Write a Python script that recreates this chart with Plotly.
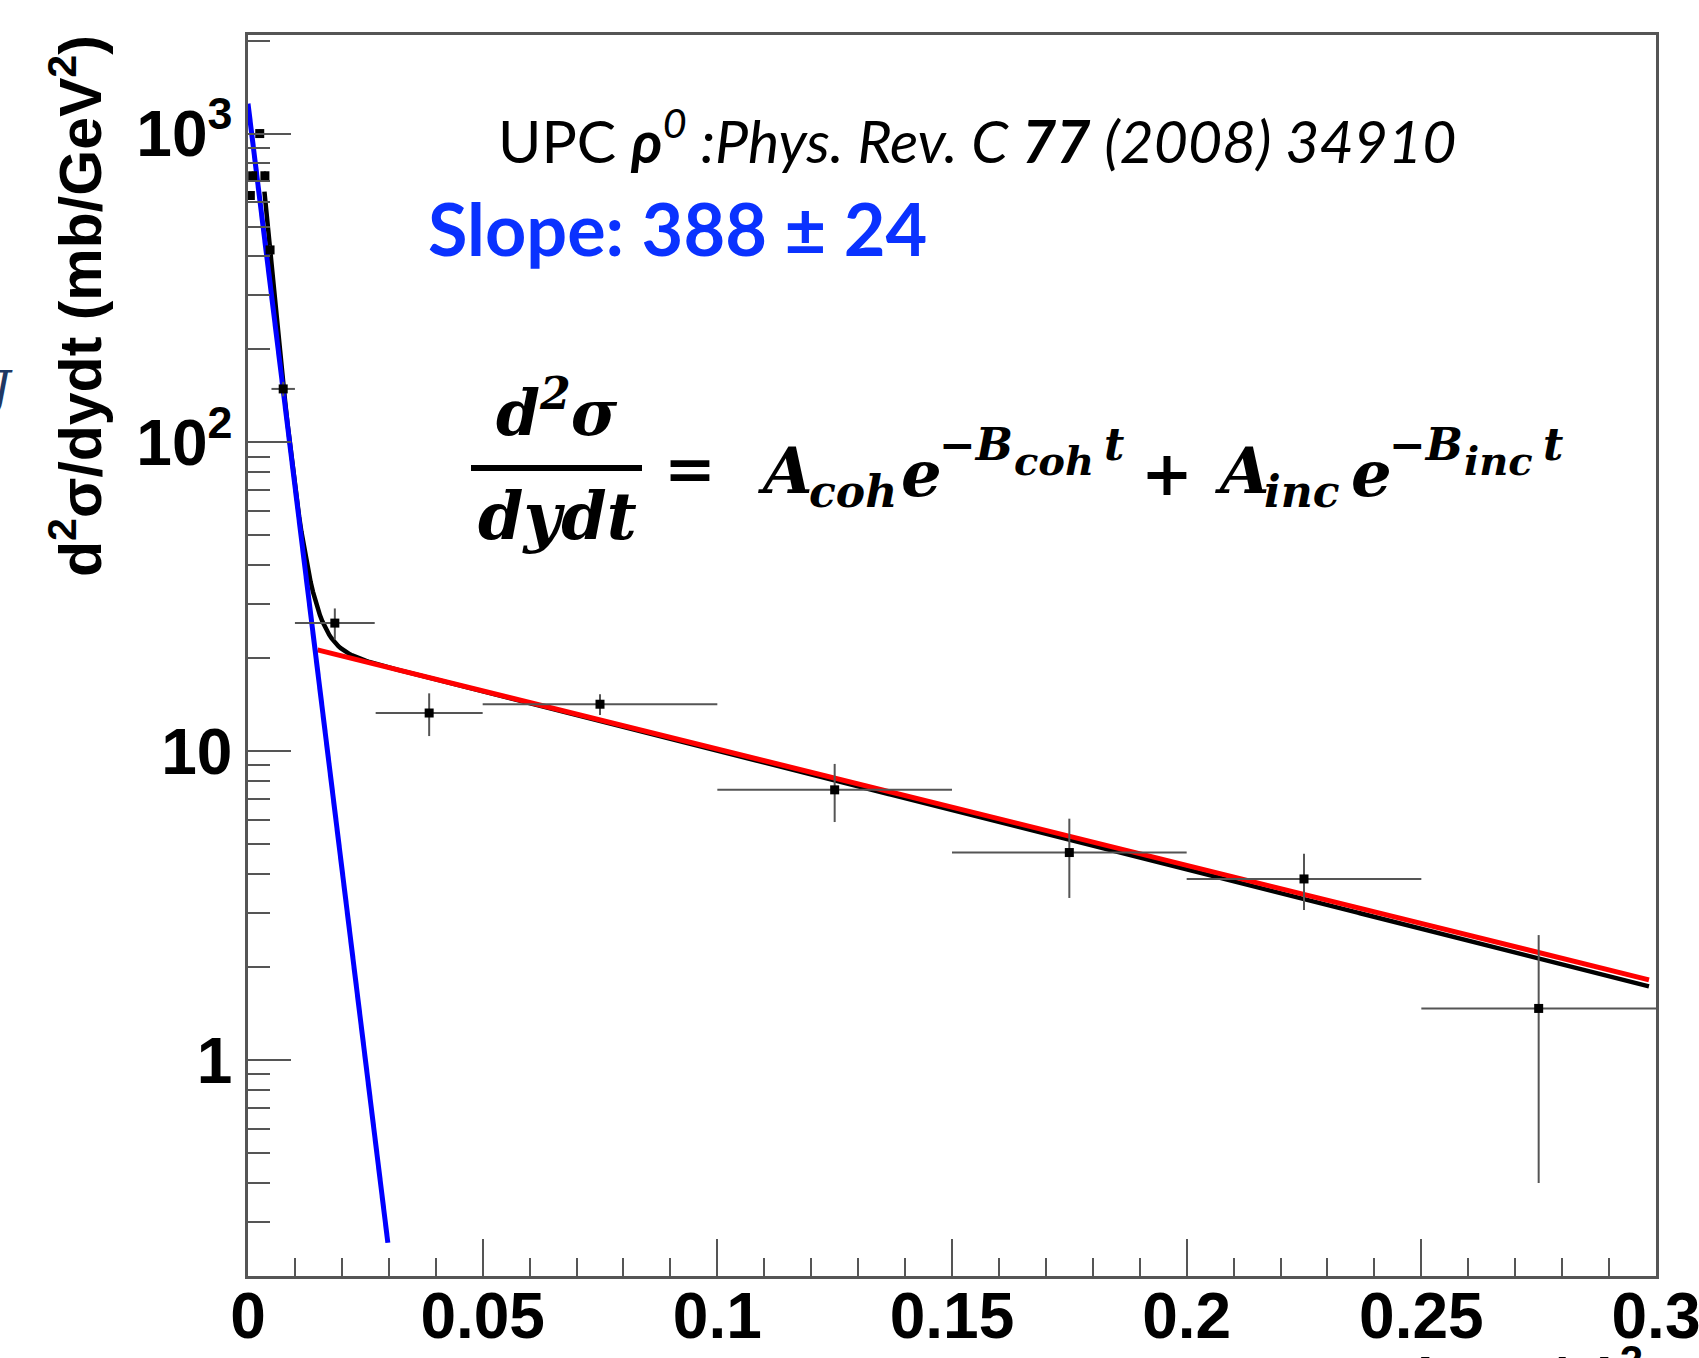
import numpy as np
import plotly.graph_objects as go

# ---------------- data ----------------
t_center = [0.0005, 0.0010, 0.0025, 0.0036, 0.0047, 0.0075, 0.0185, 0.0386, 0.075, 0.125, 0.175, 0.225, 0.275]
t_halfwidth = [0.0005, 0.0005, 0.0005, 0.0005, 0.0005, 0.0025, 0.0085, 0.0114, 0.025, 0.025, 0.025, 0.025, 0.025]
dsigma = [630, 730, 1000, 730, 420, 149, 26.0, 13.3, 14.2, 7.5, 4.7, 3.86, 1.47]
dsigma_err = [20, 25, 30, 25, 15, 8, 3.0, 2.1, 1.1, 1.6, 1.35, 0.8, 1.07]

# fit parameters
blue_A, blue_B, blue_tmax = 1250.0, 285.0, 0.0298           # coherent component
red_A, red_B, red_tmin, red_tmax = 24.2, 8.67, 0.0148, 0.2985  # incoherent component
tot_Acoh, tot_Bcoh, tot_Ainc, tot_Binc = 2430.0, 388.0, 24.33, 8.85
tot_tmin, tot_tmax = 0.0035, 0.2985

x_ticks = [0, 0.05, 0.1, 0.15, 0.2, 0.25, 0.3]
x_ticktext = ["0", "0.05", "0.1", "0.15", "0.2", "0.25", "0.3"]
y_tickvals = [1, 10, 100, 1000]
y_ticktext = ["1", "10", "10<sup>2</sup>", "10<sup>3</sup>"]

# ---------------- figure geometry ----------------
W, H = 1699, 1358
ML, MR, MT, MB = 248, 43, 35, 82
PW, PH = W - ML - MR, H - MT - MB


def px(x):
    return (x - ML) / PW


def py(y):
    return (MT + PH - y) / PH


fig = go.Figure()

t_tot = np.linspace(tot_tmin, tot_tmax, 600)
fig.add_trace(go.Scatter(x=t_tot, y=tot_Acoh * np.exp(-tot_Bcoh * t_tot) + tot_Ainc * np.exp(-tot_Binc * t_tot),
                         mode="lines", line=dict(color="black", width=4.5), showlegend=False, hoverinfo="skip"))

t_red = np.linspace(red_tmin, red_tmax, 200)
fig.add_trace(go.Scatter(x=t_red, y=red_A * np.exp(-red_B * t_red), mode="lines",
                         line=dict(color="#ff0000", width=5), showlegend=False, hoverinfo="skip"))

t_blue = np.linspace(0, blue_tmax, 200)
fig.add_trace(go.Scatter(x=t_blue, y=blue_A * np.exp(-blue_B * t_blue), mode="lines",
                         line=dict(color="#0000ff", width=5), showlegend=False, hoverinfo="skip"))

fig.add_trace(go.Scatter(
    x=t_center, y=dsigma, mode="markers",
    marker=dict(symbol="square", size=9, color="black"),
    error_x=dict(type="data", array=t_halfwidth, color="#555555", thickness=2, width=0),
    error_y=dict(type="data", array=dsigma_err, color="#555555", thickness=2, width=0),
    showlegend=False))

axis_col = "#555555"
fig.update_xaxes(range=[0, 0.3], automargin=False, showgrid=False, zeroline=False, showline=True, linecolor=axis_col,
                 linewidth=2.5, mirror=True, ticks="inside", tickvals=x_ticks, ticktext=x_ticktext,
                 ticklen=37, tickwidth=2, tickcolor=axis_col,
                 minor=dict(dtick=0.01, tick0=0, ticks="inside", ticklen=18, tickwidth=2, tickcolor=axis_col, showgrid=False),
                 tickfont=dict(family="Liberation Sans", size=64, color="black", weight="bold"),
                 ticklabelstandoff=-18, ticklabeloverflow="allow")

minor_y = [k * 10 ** e for e in range(-1, 4) for k in range(2, 10) if 0.2 <= k * 10 ** e <= 2085]
fig.update_yaxes(type="log", range=[np.log10(0.2), np.log10(2085)], automargin=False, showgrid=False, zeroline=False,
                 showline=True, linecolor=axis_col, linewidth=2.5, mirror=True,
                 ticks="inside", tickvals=y_tickvals, ticktext=y_ticktext, ticklen=43, tickwidth=2, tickcolor=axis_col,
                 minor=dict(tickvals=minor_y, ticks="inside", ticklen=22, tickwidth=2, tickcolor=axis_col, showgrid=False),
                 tickfont=dict(family="Liberation Sans", size=64, color="black", weight="bold"),
                 ticklabelstandoff=0, ticklabeloverflow="allow")

ann = []

# y-axis title
ann.append(dict(text="d<sup>2</sup>σ/dydt (mb/GeV<sup>2</sup>)", x=px(76), y=py(306), xref="paper", yref="paper",
                textangle=-90, showarrow=False, xanchor="center", yanchor="middle",
                font=dict(family="Liberation Sans", size=59, color="black", weight="bold")))

# reference line
ann.append(dict(text="UPC <b><i>ρ</i></b><sup><i>0</i></sup><i> :Phys. Rev. C </i><b><i>77</i></b><i> (2008) 34910</i>",
                x=px(496), y=py(136), xref="paper", yref="paper", showarrow=False, xanchor="left", yanchor="middle",
                font=dict(family="Lato", size=59, color="black")))

# slope
ann.append(dict(text="<b>Slope: 388 ± 24</b>", x=px(426), y=py(228), xref="paper", yref="paper", showarrow=False,
                xanchor="left", yanchor="middle", font=dict(family="Lato", size=72, color="#0a32ff")))

# equation pieces
SER = "DejaVu Serif"


def piece(text, x, base, size, xanchor="left", italic=True, bold=True):
    return dict(text=text, x=px(x), y=py(base - 0.346 * size), xref="paper", yref="paper", showarrow=False,
                xanchor=xanchor, yanchor="middle",
                font=dict(family=SER, size=size, color="black", weight="bold" if bold else "normal",
                          style="italic" if italic else "normal"))


ann.append(piece("d<sup>2</sup>σ", 557, 431, 63, xanchor="center"))
ann.append(piece("dydt", 557, 538, 65, xanchor="center"))
ann.append(piece("=", 690, 490, 62, xanchor="center", italic=False))
ann.append(piece("A", 756, 493, 64))
ann.append(piece("coh", 807, 507, 44))
ann.append(piece("e", 899, 496, 64))
ann.append(piece("−B", 937, 460, 44))
ann.append(piece("coh", 1012, 474, 40))
ann.append(piece("t", 1102, 460, 44))
ann.append(piece("+", 1167, 495, 62, xanchor="center", italic=False))
ann.append(piece("A", 1213, 493, 64))
ann.append(piece("inc", 1262, 507, 44))
ann.append(piece("e", 1349, 496, 64))
ann.append(piece("−B", 1387, 460, 44))
ann.append(piece("inc", 1462, 474, 40))
ann.append(piece("t", 1541, 460, 44))

# stray glyph at left edge (remnant of slide text)
ann.append(dict(text="<i>J</i>", x=px(15), y=py(388), xref="paper", yref="paper", showarrow=False,
                xanchor="right", yanchor="middle", font=dict(family="DejaVu Serif", size=46, color="#1f3864")))

# cut-off x-axis title
ann.append(dict(text="−t (GeV/c)<sup>2</sup>", x=px(1645), y=py(1335), xref="paper", yref="paper", showarrow=False,
                xanchor="right", yanchor="top", font=dict(family="Liberation Sans", size=60, color="black", weight="bold")))

fig.update_layout(
    width=W, height=H, margin=dict(l=ML, r=MR, t=MT, b=MB, autoexpand=False),
    plot_bgcolor="white", paper_bgcolor="white", annotations=ann,
    shapes=[dict(type="line", xref="paper", yref="paper", x0=px(471), x1=px(642), y0=py(468), y1=py(468),
                 line=dict(color="black", width=6))],
)

fig.write_html("out.html", config={"displayModeBar": False},
               post_script="document.body.style.margin='0';document.body.style.overflow='hidden';")
